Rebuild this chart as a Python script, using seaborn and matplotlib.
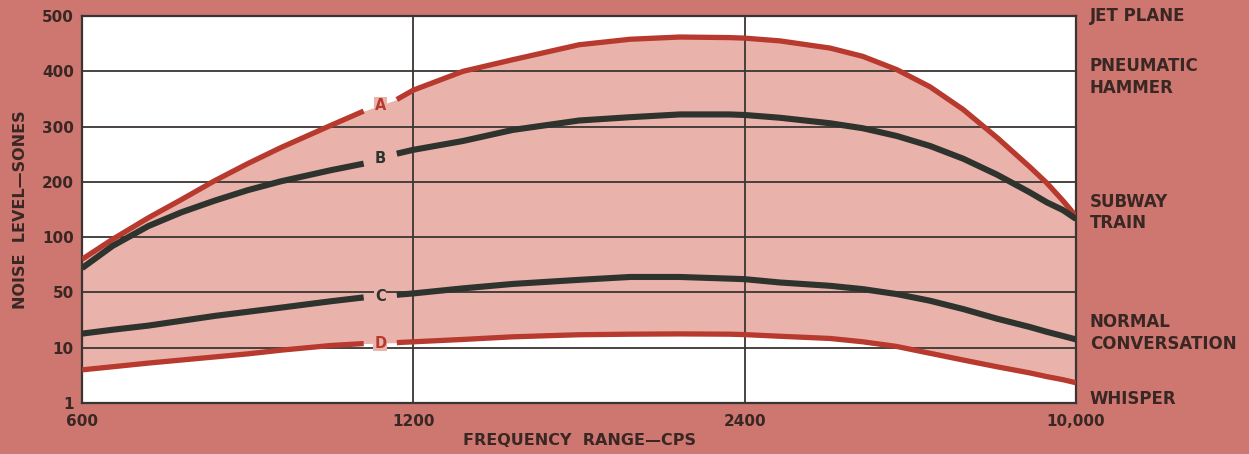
import numpy as np
import matplotlib
matplotlib.use('Agg')
import matplotlib.pyplot as plt
import matplotlib.transforms as mtransforms
import seaborn as sns

# Data (frequency in cps, noise level in sones)
freq = [600, 655, 720, 780, 840, 900, 960, 1050, 1110, 1170, 1200, 1380,
        1560, 1800, 1985, 2165, 2345, 2400, 3210, 4360, 5110, 5890, 6650,
        7410, 8190, 8940, 9330, 9700, 10000]
curve_a = [80, 98, 135, 168, 202, 233, 262, 302, 328, 349, 366, 400,
           421, 448, 458, 462, 461, 460, 455, 442, 427, 403, 372,
           331, 280, 227, 198, 166, 138]
curve_b = [72, 92, 120, 145, 166, 185, 201, 221, 233, 251, 258, 274,
           294, 311, 317, 322, 322, 321, 316, 306, 297, 283, 265,
           242, 213, 181, 163, 149, 133]
curve_c = [20.2, 23, 26, 29.5, 33, 36, 39, 43.6, 46.4, 48.3, 49.3, 53.7,
           57.7, 61.4, 64, 64, 62.5, 62, 59, 56, 53, 48.8, 44,
           38, 31, 25, 21.5, 18.5, 16]
curve_d = [6.4, 6.9, 7.5, 8.0, 8.5, 9.0, 9.6, 11.6, 13.0, 13.7, 14.3, 16,
           17.9, 19.4, 19.8, 20.0, 19.8, 19.5, 18.3, 16.7, 14.3, 10.9, 9.1,
           8.0, 6.9, 5.9, 5.3, 4.8, 4.3]

freq_ticks = [600, 1200, 2400, 10000]
freq_tick_labels = ['600', '1200', '2400', '10,000']
sone_ticks = [1, 10, 50, 100, 200, 300, 400, 500]

sources = ['JET PLANE', 'PNEUMATIC\nHAMMER', 'SUBWAY\nTRAIN', 'NORMAL\nCONVERSATION', 'WHISPER']
source_levels = [500, 390, 145, 20.6, 1.6]

curve_names = ['A', 'B', 'C', 'D']
label_freq = 1140
gap = (1110, 1170)   # each line is broken here for its letter

# colours
bg = '#cd7770'
fill = '#e9b3ab'
red = '#b8392e'
dark = '#2e332e'
ink = '#3a2723'

# the chart spaces its ticks evenly, so the scales are piecewise linear
x_knots = np.array([0] + freq_ticks + [17600], dtype=float)
x_pos = np.arange(-1, len(freq_ticks) + 1, dtype=float)
y_knots = np.array([-8] + sone_ticks + [600], dtype=float)
y_pos = np.arange(-1, len(sone_ticks) + 1, dtype=float)

def x_fwd(v):
    return np.interp(v, x_knots, x_pos)

def x_inv(v):
    return np.interp(v, x_pos, x_knots)

def y_fwd(v):
    return np.interp(v, y_knots, y_pos)

def y_inv(v):
    return np.interp(v, y_pos, y_knots)

sns.set_theme(style='white')
plt.rcParams['font.family'] = ['DejaVu Sans']
plt.rcParams['font.weight'] = 'bold'

fig = plt.figure(figsize=(12.49, 4.54), dpi=100, facecolor=bg)
ax = fig.add_axes([0.0657, 0.1123, 0.7958, 0.8524])
ax.set_facecolor('white')
ax.set_xscale('function', functions=(x_fwd, x_inv))
ax.set_yscale('function', functions=(y_fwd, y_inv))

ax.fill_between(freq, curve_a, curve_d, color=fill, lw=0, zorder=1)

f = np.array(freq)
left = f <= gap[0]
right = f >= gap[1]
colors = [red, dark, dark, red]
widths = [3.8, 4.4, 4.4, 3.8]
for vals, c, w in zip([curve_a, curve_b, curve_c, curve_d], colors, widths):
    v = np.array(vals)
    for m in (left, right):
        sns.lineplot(x=f[m], y=v[m], color=c, lw=w, ax=ax, zorder=3,
                     solid_capstyle='butt', solid_joinstyle='round')

# curve letters sit in the gap of each line
for name, vals, c in zip(curve_names, [curve_a, curve_b, curve_c, curve_d], colors):
    ly = y_inv(np.interp(x_fwd(label_freq), x_fwd(f), y_fwd(np.array(vals))))
    ax.text(label_freq, ly, name, color=c, fontsize=10.5, fontweight='bold',
            ha='center', va='center', zorder=4,
            bbox=dict(boxstyle='square,pad=0.05', fc=fill, ec='none'))

ax.set_xlim(600, 10000)
ax.set_ylim(1, 500)
ax.set_xticks(freq_ticks)
ax.set_xticklabels(freq_tick_labels)
ax.set_yticks(sone_ticks)
ax.set_yticklabels([str(t) for t in sone_ticks])
ax.tick_params(axis='both', length=0, labelsize=11, labelcolor=ink)
ax.tick_params(axis='y', pad=6)
ax.tick_params(axis='x', pad=8)

ax.set_axisbelow(False)
ax.grid(True, color='#3a3532', lw=1.3)
for s in ax.spines.values():
    s.set_color('#3a3532')
    s.set_linewidth(1.6)

ax.set_xlabel('FREQUENCY  RANGE\u2014CPS', fontsize=11.5, color=ink,
              fontweight='bold', labelpad=3)
ax.set_ylabel('NOISE  LEVEL\u2014SONES', fontsize=11.5, color=ink,
              fontweight='bold', labelpad=10)

trans = mtransforms.blended_transform_factory(ax.transAxes, ax.transData)
for txt, lvl in zip(sources, source_levels):
    ax.text(1.014, lvl, txt, transform=trans, ha='left', va='center',
            fontsize=12, fontweight='bold', color=ink, linespacing=1.25,
            clip_on=False)

fig.savefig('out.png', dpi=100, facecolor=bg)
